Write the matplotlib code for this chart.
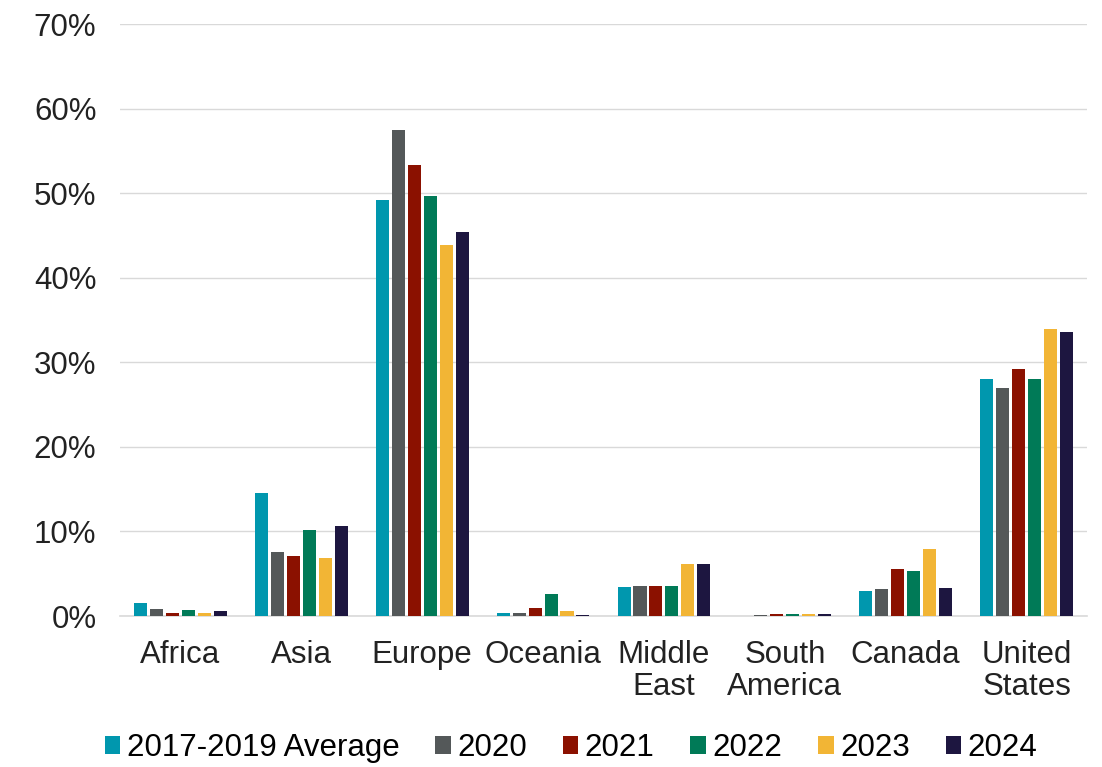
import numpy as np
import matplotlib.pyplot as plt

plt.rcParams['font.family'] = ['Liberation Sans', 'DejaVu Sans']

regions = ['Africa', 'Asia', 'Europe', 'Oceania', 'Middle\nEast',
           'South\nAmerica', 'Canada', 'United\nStates']
series = ['2017-2019 Average', '2020', '2021', '2022', '2023', '2024']
colors = ['#0097AE', '#545859', '#8B1100', '#007A57', '#F2B535', '#1D1640']

avg_17_19 = [1.5, 14.6, 49.2, 0.3, 3.4, 0.0, 3.0, 28.0]
y2020 = [0.8, 7.6, 57.5, 0.3, 3.5, 0.15, 3.2, 27.0]
y2021 = [0.3, 7.1, 53.3, 0.9, 3.6, 0.2, 5.6, 29.2]
y2022 = [0.7, 10.2, 49.7, 2.6, 3.5, 0.2, 5.3, 28.0]
y2023 = [0.4, 6.9, 43.9, 0.6, 6.2, 0.2, 7.9, 33.9]
y2024 = [0.55, 10.6, 45.4, 0.1, 6.2, 0.2, 3.3, 33.6]
values = [avg_17_19, y2020, y2021, y2022, y2023, y2024]

fig = plt.figure(figsize=(11.02, 7.67), dpi=100)
ax = fig.add_axes([120 / 1102, 1 - 616 / 767, 967 / 1102, 592 / 767])

x = np.arange(len(regions))
step = 0.132
width = 0.108
for i, (name, vals, c) in enumerate(zip(series, values, colors)):
    ax.bar(x + (i - 2.5) * step, vals, width, color=c, label=name, zorder=3)

fs = 22.5
ax.set_xlim(-0.5, len(regions) - 0.5)
ax.set_ylim(0, 70)
ax.set_yticks(range(0, 71, 10))
ax.set_yticklabels([f'{v}%' for v in range(0, 71, 10)])
ax.set_xticks(x)
ax.set_xticklabels(regions, linespacing=1.12)
ax.tick_params(length=0, labelsize=fs, colors='#222222')
ax.tick_params(axis='x', pad=17)
ax.tick_params(axis='y', pad=17)
ax.yaxis.grid(True, color='#D9D9D9', linewidth=1, zorder=0)
for s in ['top', 'right', 'left']:
    ax.spines[s].set_visible(False)
ax.spines['bottom'].set_color('#D9D9D9')
ax.spines['bottom'].set_linewidth(1.2)

ax.legend(loc='center', bbox_to_anchor=((571 - 120) / 967, (616 - 748) / 592),
          ncol=6, frameon=False, fontsize=fs, handlelength=0.5,
          handleheight=0.5, handletextpad=0.2, columnspacing=1.15,
          borderpad=0)

fig.savefig('out.png', dpi=100)
